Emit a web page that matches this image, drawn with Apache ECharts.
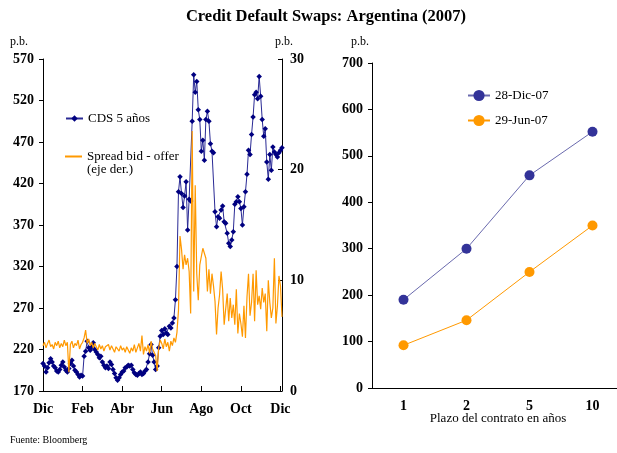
<!DOCTYPE html>
<html>
<head>
<meta charset="utf-8">
<script src="https://cdn.jsdelivr.net/npm/echarts@6/dist/echarts.min.js"></script>
<style>
  html, body { margin: 0; padding: 0; background: #fff; }
  #chart { width: 617px; height: 453px; }
</style>
</head>
<body>
<div id="chart"></div>
<script>
// Left panel: 5-year CDS (p.b.) and bid-offer spread (right axis), Dec-06 to Dec-07
const monthTicks = ['Dic', 'Feb', 'Abr', 'Jun', 'Ago', 'Oct', 'Dic'];
const obsPerTick = 26;

const cds5y = [
  203, 200, 193, 198, 204, 209, 205, 200, 198, 194,
  193, 196, 201, 205, 199, 195, 193, 197, 203, 207,
  200, 195, 193, 190, 187, 189, 188, 212, 218, 230,
  222, 219, 223, 228, 220, 217, 214, 210, 212, 205,
  201, 198, 200, 197, 205, 202, 196, 191, 186, 183,
  186, 190, 193, 194, 198, 199, 201, 200, 201, 196,
  192, 190, 189, 191, 193, 190, 191, 194, 196, 205,
  215, 226, 213, 205, 196, 200, 222, 236, 243, 238,
  245, 240, 238, 248, 246, 252, 258, 280, 320, 410,
  428, 408, 391, 405, 422, 364, 401, 399, 495, 551,
  530, 543, 509, 497, 459, 472, 448, 497, 507, 495,
  468, 459, 457, 386, 368, 380, 378, 388, 393, 374,
  372, 360, 348, 344, 352, 362, 395, 398, 404, 398,
  390, 370, 392, 410, 431, 460, 455, 479, 500, 527,
  530, 522, 549, 525, 497, 477, 486, 446, 425, 455,
  436, 464, 458, 455, 452, 457, 460, 463
];

const bidOffer = [
  4.1, 4.4, 3.9, 4.3, 4.6, 4.0, 4.2, 3.8, 4.4, 4.1,
  4.5, 3.9, 4.3, 4.0, 4.6, 4.1, 4.4, 1.7, 4.2, 4.5,
  3.9, 4.3, 4.1, 4.6, 3.8, 4.2, 4.4, 4.8, 5.5, 4.3,
  4.7, 4.1, 4.4, 3.9, 4.3, 4.0, 3.7, 4.2, 3.8, 4.1,
  3.6, 4.0, 3.9, 4.2, 3.7, 4.1, 3.8, 3.5, 4.0, 3.9,
  3.6, 4.1, 3.7, 3.9, 3.5, 4.0, 3.7, 3.4, 3.9, 3.6,
  4.2, 3.5, 3.9, 4.3, 3.6, 5.0, 3.3, 4.0, 3.6, 4.2,
  3.4, 4.5, 3.8, 3.5, 3.2, 1.8, 3.9, 4.6, 4.3, 3.8,
  4.7, 4.0, 4.4, 3.6, 4.5, 4.1, 4.8, 4.4, 5.3, 7.3,
  14.0, 12.8, 11.0, 12.3, 11.4, 12.0, 10.8, 7.0, 23.5, 9.0,
  18.6, 10.6, 8.2, 11.4, 11.3, 12.9, 12.8, 12.0, 9.0, 11.0,
  8.8, 10.6, 9.5, 8.1, 5.1, 7.5, 8.7, 10.8, 9.2, 6.0,
  6.0, 8.8, 6.3, 8.4, 6.6, 7.8, 6.0, 9.2, 5.2, 7.0,
  6.1, 4.9, 7.7, 4.8, 8.5, 10.6, 6.8, 8.0, 10.6, 6.3,
  10.9, 7.8, 8.6, 7.4, 9.3, 8.0, 8.8, 5.4, 10.0, 8.0,
  6.6, 7.5, 12.0, 6.1, 7.7, 10.4, 9.5, 6.7
];

// Right panel: CDS curve by contract term
const tenors = ['1', '2', '5', '10'];
const curveDec07 = [190, 300, 458, 552];
const curveJun07 = [92, 146, 250, 350];

const SERIF = "'Liberation Serif', 'DejaVu Serif', serif";
const NAVY = '#000080';
const ORANGE = '#FF9900';
const SLATE = '#333399';

const obsIndex = cds5y.map((_, i) => String(i));
const isTick = (i) => i % obsPerTick === 0;

const chart = echarts.init(document.getElementById('chart'), null, { renderer: 'canvas' });

const boldLabel = { color: '#000', fontFamily: SERIF, fontWeight: 'bold', fontSize: 14 };
const blackLine = { lineStyle: { color: '#000', width: 1 } };
const legendText = { fontFamily: SERIF, fontSize: 13, color: '#000' };

chart.setOption({
  animation: false,
  backgroundColor: '#fff',
  textStyle: { fontFamily: SERIF },
  title: {
    text: 'Credit Default Swaps: Argentina (2007)',
    left: 326, top: 8, textAlign: 'center', padding: 0,
    textStyle: { fontFamily: SERIF, fontWeight: 'bold', fontSize: 16.5, color: '#000' }
  },
  grid: [
    { left: 43, top: 59, width: 239, height: 332, outerBoundsMode: 'none' },
    // the last term's band runs past the right edge of the canvas
    { left: 372, top: 63, width: 252, height: 325, outerBoundsMode: 'none' }
  ],
  legend: [
    {
      data: ['CDS 5 años'], left: 65, top: 112, padding: 0,
      itemWidth: 17, itemHeight: 8, textStyle: legendText
    },
    {
      data: [{ name: 'Spread bid - offer', icon: 'rect' }], left: 65, top: 150, padding: 0,
      itemWidth: 17, itemHeight: 2, textStyle: legendText
    },
    {
      data: ['28-Dic-07', '29-Jun-07'], orient: 'vertical', left: 467, top: 89, padding: 0,
      itemGap: 12, itemWidth: 22, itemHeight: 14, textStyle: legendText
    }
  ],
  graphic: [
    { type: 'text', left: 87, top: 163, style: { text: '(eje der.)', font: '13px ' + SERIF, fill: '#000' } },
    { type: 'text', left: 10, top: 36, style: { text: 'p.b.', font: '12px ' + SERIF, fill: '#000' } },
    { type: 'text', left: 275, top: 36, style: { text: 'p.b.', font: '12px ' + SERIF, fill: '#000' } },
    { type: 'text', left: 351, top: 36, style: { text: 'p.b.', font: '12px ' + SERIF, fill: '#000' } },
    { type: 'text', left: 10, top: 435, style: { text: 'Fuente: Bloomberg', font: '10px ' + SERIF, fill: '#000' } }
  ],
  xAxis: [
    {
      type: 'category', gridIndex: 0, data: obsIndex, boundaryGap: false,
      axisLine: blackLine,
      axisTick: { inside: true, length: 5, interval: (i) => isTick(i), lineStyle: { color: '#000' } },
      axisLabel: Object.assign({}, boldLabel, {
        margin: 11, interval: (i) => isTick(i),
        formatter: (v, i) => monthTicks[i / obsPerTick] || ''
      }),
      splitLine: { show: false }
    },
    {
      type: 'category', gridIndex: 1, data: tenors, boundaryGap: true,
      axisLine: blackLine,
      axisTick: { inside: true, length: 5, interval: 0, lineStyle: { color: '#000' } },
      axisLabel: Object.assign({}, boldLabel, { margin: 11 }),
      name: 'Plazo del contrato en años', nameLocation: 'middle', nameGap: 24,
      nameMoveOverlap: false,
      nameTextStyle: { fontFamily: SERIF, fontSize: 13, color: '#000' },
      splitLine: { show: false }
    }
  ],
  yAxis: [
    {
      type: 'value', gridIndex: 0, min: 170, max: 570, interval: 50,
      axisLine: Object.assign({ show: true }, blackLine),
      axisTick: { show: true, length: 4, lineStyle: { color: '#000' } },
      axisLabel: Object.assign({}, boldLabel, { margin: 9 }),
      splitLine: { show: false }
    },
    {
      type: 'value', gridIndex: 0, position: 'right', min: 0, max: 30, interval: 10,
      axisLine: Object.assign({ show: true }, blackLine),
      axisTick: { show: true, inside: true, length: 4, lineStyle: { color: '#000' } },
      axisLabel: Object.assign({}, boldLabel, { margin: 8 }),
      splitLine: { show: false }
    },
    {
      type: 'value', gridIndex: 1, min: 0, max: 700, interval: 100,
      axisLine: Object.assign({ show: true }, blackLine),
      axisTick: { show: true, length: 4, lineStyle: { color: '#000' } },
      axisLabel: Object.assign({}, boldLabel, { margin: 9 }),
      splitLine: { show: false }
    }
  ],
  series: [
    {
      name: 'CDS 5 años', type: 'line', xAxisIndex: 0, yAxisIndex: 0, data: cds5y,
      symbol: 'diamond', symbolSize: 5.5, showAllSymbol: true,
      lineStyle: { color: '#2a2a95', width: 1 },
      itemStyle: { color: NAVY },
      z: 2
    },
    {
      name: 'Spread bid - offer', type: 'line', xAxisIndex: 0, yAxisIndex: 1, data: bidOffer,
      symbol: 'none',
      lineStyle: { color: ORANGE, width: 1.2 },
      itemStyle: { color: ORANGE },
      z: 3
    },
    {
      name: '28-Dic-07', type: 'line', xAxisIndex: 1, yAxisIndex: 2, data: curveDec07,
      symbol: 'circle', symbolSize: 10,
      lineStyle: { color: '#6a6aae', width: 1 },
      itemStyle: { color: SLATE },
      z: 2
    },
    {
      name: '29-Jun-07', type: 'line', xAxisIndex: 1, yAxisIndex: 2, data: curveJun07,
      symbol: 'circle', symbolSize: 10,
      lineStyle: { color: ORANGE, width: 1 },
      itemStyle: { color: ORANGE },
      z: 2
    }
  ]
});
</script>
</body>
</html>
